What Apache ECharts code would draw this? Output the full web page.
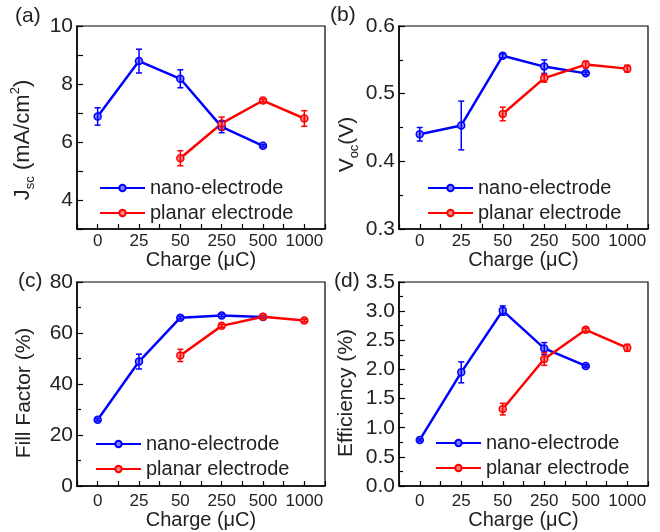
<!DOCTYPE html>
<html>
<head>
<meta charset="utf-8">
<script src="https://cdn.jsdelivr.net/npm/echarts@6/dist/echarts.min.js"></script>
<style>
  html, body { margin: 0; padding: 0; background: #fff; }
  #chart { width: 660px; height: 532px; }
</style>
</head>
<body>
<div id="chart"></div>
<script>
// x categories (charge, uC)
var categories = ['0', '25', '50', '250', '500', '1000'];
var nanoCharge = ['0', '25', '50', '250', '500'];
var planarCharge = ['50', '250', '500', '1000'];

// (a) Jsc (mA/cm2)
var jscNano = [6.88, 8.79, 8.18, 6.52, 5.87];
var jscNanoErr = [0.30, 0.41, 0.31, 0.20, 0.04];
var jscPlanar = [5.44, 6.64, 7.43, 6.81];
var jscPlanarErr = [0.26, 0.22, 0.05, 0.27];

// (b) Voc (V)
var vocNano = [0.440, 0.453, 0.556, 0.540, 0.530];
var vocNanoErr = [0.010, 0.036, 0.003, 0.010, 0.002];
var vocPlanar = [0.470, 0.523, 0.543, 0.537];
var vocPlanarErr = [0.010, 0.006, 0.005, 0.005];

// (c) Fill factor (%)
var ffNano = [26.0, 48.8, 66.0, 66.9, 66.3];
var ffNanoErr = [0.5, 2.9, 0.5, 0.5, 0.5];
var ffPlanar = [51.2, 62.8, 66.4, 64.9];
var ffPlanarErr = [2.4, 0.6, 0.5, 0.5];

// (d) Efficiency (%)
var effNano = [0.79, 1.95, 3.01, 2.36, 2.06];
var effNanoErr = [0.02, 0.18, 0.08, 0.10, 0.02];
var effPlanar = [1.32, 2.18, 2.68, 2.37];
var effPlanarErr = [0.10, 0.11, 0.03, 0.06];

var BLUE = '#0000ff', RED = '#ff0000';
var FONT = 'Liberation Sans, Arial, sans-serif';
var NANO = 'nano-electrode', PLANAR = 'planar electrode';

function points(charges, vals) {
  return vals.map(function (v, i) { return [categories.indexOf(charges[i]), v]; });
}
function errPoints(charges, vals, errs) {
  return vals.map(function (v, i) { return [categories.indexOf(charges[i]), v - errs[i], v + errs[i]]; });
}
function renderErr(params, api) {
  var x = api.value(0);
  var lo = api.coord([x, api.value(1)]);
  var hi = api.coord([x, api.value(2)]);
  var w = 3;
  var st = { stroke: api.visual('color'), lineWidth: 1.5 };
  return {
    type: 'group',
    children: [
      { type: 'line', shape: { x1: lo[0], y1: lo[1], x2: hi[0], y2: hi[1] }, style: st },
      { type: 'line', shape: { x1: lo[0] - w, y1: lo[1], x2: lo[0] + w, y2: lo[1] }, style: st },
      { type: 'line', shape: { x1: hi[0] - w, y1: hi[1], x2: hi[0] + w, y2: hi[1] }, style: st }
    ]
  };
}

var grids = [
  { left: 77, top: 26, width: 248, height: 203 },
  { left: 399, top: 26, width: 249, height: 203 },
  { left: 77, top: 282, width: 248, height: 204 },
  { left: 399, top: 282, width: 249, height: 204 }
];

var xAxes = grids.map(function (g, i) {
  return {
    type: 'value', gridIndex: i, min: -0.5, max: 5.5, interval: 0.5,
    name: 'Charge (\u03bcC)', nameLocation: 'middle', nameGap: 20,
    nameTextStyle: { fontFamily: FONT, fontSize: 20, color: '#222' },
    axisLine: { onZero: false, lineStyle: { color: '#000', width: 1.5 } },
    axisTick: { inside: true, length: 5, lineStyle: { color: '#000', width: 1.2 } },
    axisLabel: {
      fontFamily: FONT, fontSize: 17, color: '#222', margin: i < 2 ? 4 : 7,
      formatter: function (v) { return Number.isInteger(v) ? categories[v] : ''; }
    },
    splitLine: { show: false }
  };
});

var yCommon = function (i) {
  return {
    type: 'value', gridIndex: i, nameLocation: 'middle',
    axisLine: { onZero: false, lineStyle: { color: '#000', width: 1.5 } },
    axisTick: { inside: true, length: 6, lineStyle: { color: '#000', width: 1.2 } },
    minorTick: { show: true, splitNumber: 2, length: 4, lineStyle: { color: '#000', width: 1.2 } },
    axisLabel: { fontFamily: FONT, fontSize: 21, color: '#222', margin: 4 },
    splitLine: { show: false }
  };
};

var yA = yCommon(0);
yA.min = 3; yA.max = 10; yA.interval = 1;
yA.minorTick = { show: false };
yA.axisLabel.formatter = function (v) { return v % 2 === 0 ? String(v) : ''; };
yA.name = '{m|J}{s|sc}{m| (mA/cm}{p|2}{m|)}';
yA.nameGap = 40;
yA.nameTextStyle = {
  padding: [0, 25, 0, 0],
  rich: {
    m: { fontFamily: FONT, fontSize: 22, color: '#222', lineHeight: 28 },
    s: { fontFamily: FONT, fontSize: 13, color: '#222', lineHeight: 28, verticalAlign: 'bottom' },
    p: { fontFamily: FONT, fontSize: 13, color: '#222', lineHeight: 28, verticalAlign: 'top' }
  }
};

var yB = yCommon(1);
yB.min = 0.3; yB.max = 0.6; yB.interval = 0.1;
yB.axisLabel.formatter = function (v) { return v.toFixed(1); };
yB.name = '{m|V}{s|oc}{m|(V)}';
yB.nameGap = 38;
yB.nameTextStyle = {
  padding: [0, 34, 0, 0],
  rich: {
    m: { fontFamily: FONT, fontSize: 21, color: '#222', lineHeight: 27 },
    s: { fontFamily: FONT, fontSize: 13, color: '#222', lineHeight: 27, verticalAlign: 'bottom' }
  }
};

var yC = yCommon(2);
yC.min = 0; yC.max = 80; yC.interval = 20;
yC.name = 'Fill Factor (%)';
yC.nameGap = 42;
yC.nameTextStyle = { fontFamily: FONT, fontSize: 21, color: '#222', padding: [0, 18, 0, 0] };

var yD = yCommon(3);
yD.min = 0; yD.max = 3.5; yD.interval = 0.5;
yD.axisLabel.formatter = function (v) { return v.toFixed(1); };
yD.name = 'Efficiency (%)';
yD.nameGap = 42;
yD.nameTextStyle = { fontFamily: FONT, fontSize: 21, color: '#222', padding: [0, 18, 0, 0] };

var panels = [
  [jscNano, jscNanoErr, jscPlanar, jscPlanarErr],
  [vocNano, vocNanoErr, vocPlanar, vocPlanarErr],
  [ffNano, ffNanoErr, ffPlanar, ffPlanarErr],
  [effNano, effNanoErr, effPlanar, effPlanarErr]
];

var series = [];
panels.forEach(function (p, i) {
  [[NANO, nanoCharge, p[0], p[1], BLUE, '#7f7fff'], [PLANAR, planarCharge, p[2], p[3], RED, '#ff8080']].forEach(function (s) {
    series.push({
      name: s[0], type: 'line', xAxisIndex: i, yAxisIndex: i,
      data: points(s[1], s[2]),
      symbol: 'circle', symbolSize: 7,
      lineStyle: { color: s[4], width: 2.5 },
      itemStyle: { color: s[5], borderColor: s[4], borderWidth: 1.5 },
      z: 3
    });
    series.push({
      name: s[0] + ' error', type: 'custom', xAxisIndex: i, yAxisIndex: i,
      data: errPoints(s[1], s[2], s[3]),
      renderItem: renderErr,
      itemStyle: { color: s[4] },
      z: 4
    });
  });
});

var legendPos = [
  { left: 94, top: 173 },
  { left: 422, top: 173 },
  { left: 90, top: 429 },
  { left: 430, top: 428 }
];
var legends = legendPos.map(function (p) {
  return {
    left: p.left, top: p.top, orient: 'vertical', itemWidth: 45, itemHeight: 8, itemGap: 5,
    data: [NANO, PLANAR],
    textStyle: { fontFamily: FONT, fontSize: 20, color: '#222' }
  };
});

var panelLabels = [['(a)', 15, 6], ['(b)', 330, 5], ['(c)', 18, 271], ['(d)', 334, 271]];
var titles = panelLabels.map(function (t) {
  return { text: t[0], left: t[1], top: t[2], padding: 0, textStyle: { fontFamily: FONT, fontSize: 21, fontWeight: 'normal', color: '#222' } };
});

var chart = echarts.init(document.getElementById('chart'), null, { renderer: 'canvas' });
chart.setOption({
  animation: false,
  backgroundColor: '#fff',
  title: titles,
  legend: legends,
  grid: grids.map(function (g) {
    return Object.assign({ show: true, borderColor: '#000', borderWidth: 1.2, backgroundColor: 'transparent' }, g);
  }),
  xAxis: xAxes,
  yAxis: [yA, yB, yC, yD],
  series: series
});
</script>
</body>
</html>
